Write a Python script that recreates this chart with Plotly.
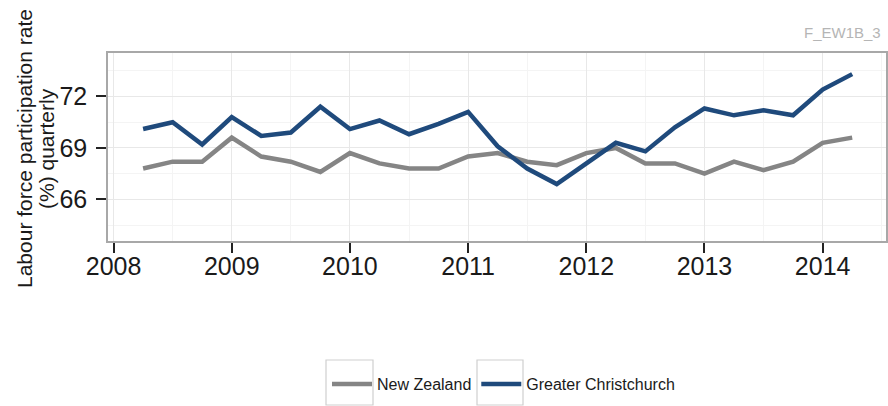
import plotly.graph_objects as go

# ---- data ----
quarters = [2008.25, 2008.5, 2008.75, 2009.0, 2009.25, 2009.5, 2009.75,
            2010.0, 2010.25, 2010.5, 2010.75, 2011.0, 2011.25, 2011.5, 2011.75,
            2012.0, 2012.25, 2012.5, 2012.75, 2013.0, 2013.25, 2013.5, 2013.75,
            2014.0, 2014.25]
new_zealand = [67.8, 68.2, 68.2, 69.6, 68.5, 68.2, 67.6, 68.7, 68.1, 67.8, 67.8,
               68.5, 68.7, 68.2, 68.0, 68.7, 69.0, 68.1, 68.1, 67.5, 68.2, 67.7,
               68.2, 69.3, 69.6]
christchurch = [70.1, 70.5, 69.2, 70.8, 69.7, 69.9, 71.4, 70.1, 70.6, 69.8, 70.4,
                71.1, 69.1, 67.8, 66.9, 68.1, 69.3, 68.8, 70.2, 71.3, 70.9, 71.2,
                70.9, 72.4, 73.3]
series_names = ["New Zealand", "Greater Christchurch"]
x_ticks = [2008, 2009, 2010, 2011, 2012, 2013, 2014]
x_tick_labels = ["2008", "2009", "2010", "2011", "2012", "2013", "2014"]
y_ticks = [66, 69, 72]
y_tick_labels = ["66", "69", "72"]
y_title_lines = ["Labour force participation rate", "(%) quarterly"]
source_tag = "F_EW1B_3"

FONT = "Liberation Sans, Arial, sans-serif"
GREY = "#858585"
BLUE = "#1F4A7C"

fig = go.Figure()
fig.add_trace(go.Scatter(x=quarters, y=new_zealand, mode="lines", name=series_names[0],
                         line=dict(color=GREY, width=4.5)))
fig.add_trace(go.Scatter(x=quarters, y=christchurch, mode="lines", name=series_names[1],
                         line=dict(color=BLUE, width=4.5)))

axis_common = dict(
    showline=True, mirror=True, linecolor="#a8a8a8", linewidth=1.5,
    ticks="outside", ticklen=10, tickwidth=2, tickcolor="#222222",
    gridcolor="#e8e8e8", gridwidth=1, zeroline=False,
    tickfont=dict(family=FONT, size=25, color="#1a1a1a"),
)

fig.update_xaxes(range=[2007.953, 2014.536], tickvals=x_ticks, ticktext=x_tick_labels,
                 ticklabelstandoff=-8,
                 minor=dict(dtick=0.5, tick0=2008.5, showgrid=True, gridcolor="#f4f4f4",
                            ticks=""),
                 **axis_common)
fig.update_yaxes(range=[63.58, 74.53], tickvals=y_ticks, ticktext=y_tick_labels,
                 ticklabelstandoff=4,
                 minor=dict(tickvals=[64.5, 67.5, 70.5, 73.5], showgrid=True,
                            gridcolor="#f4f4f4", ticks=""),
                 **axis_common)

W, H = 888, 406
L, R, T, B = 108, 2, 53, 165
pw, ph = W - L - R, H - T - B


def px_x(px):
    return (px - L) / pw


def px_y(py):
    return (H - B - py) / ph


annotations = [
    dict(text=y_title_lines[0], x=px_x(24), y=px_y(149), xref="paper", yref="paper",
         xanchor="center", yanchor="middle", textangle=-90, showarrow=False,
         font=dict(family=FONT, size=21, color="#1a1a1a")),
    dict(text=y_title_lines[1], x=px_x(46), y=px_y(149), xref="paper", yref="paper",
         xanchor="center", yanchor="middle", textangle=-90, showarrow=False,
         font=dict(family=FONT, size=21, color="#1a1a1a")),
    dict(text=source_tag, x=px_x(883), y=px_y(33), xref="paper", yref="paper",
         xanchor="right", yanchor="middle", showarrow=False,
         font=dict(family=FONT, size=15, color="#b5b5b5")),
]

shapes = []
for x0, x1 in [(326, 373), (477, 523)]:
    shapes.append(dict(type="rect", xref="paper", yref="paper",
                       x0=px_x(x0), x1=px_x(x1), y0=px_y(360), y1=px_y(405),
                       line=dict(color="#cfcfcf", width=1.2), fillcolor="rgba(0,0,0,0)",
                       layer="below"))

fig.update_layout(
    width=W, height=H,
    margin=dict(l=L, r=R, t=T, b=B, autoexpand=False),
    paper_bgcolor="white", plot_bgcolor="white",
    showlegend=True,
    legend=dict(orientation="h", x=px_x(327), xanchor="left", y=px_y(384),
                yanchor="middle", itemwidth=40, bgcolor="rgba(0,0,0,0)",
                font=dict(family=FONT, size=16, color="#1a1a1a"),
                tracegroupgap=0),
    annotations=annotations,
    shapes=shapes,
)

fig.write_html("out.html", config={"displayModeBar": False},
               post_script="document.body.style.margin='0';document.body.style.padding='0';")
